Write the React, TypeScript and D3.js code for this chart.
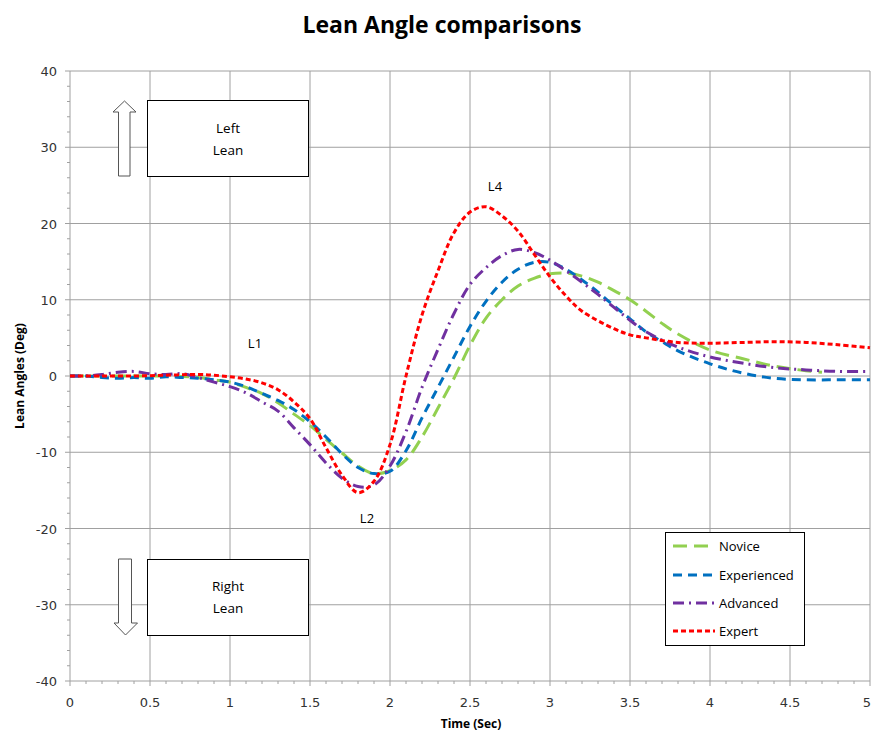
import React from "react";
import * as d3 from "d3";

const title = "Lean Angle comparisons";
const xTicks = [0, 0.5, 1, 1.5, 2, 2.5, 3, 3.5, 4, 4.5, 5];
const xTickLabels = ["0", "0.5", "1", "1.5", "2", "2.5", "3", "3.5", "4", "4.5", "5"];
const yTicks = [-40, -30, -20, -10, 0, 10, 20, 30, 40];

const expertT = [0, 0.2, 0.4, 0.6, 0.8, 0.9, 1.0, 1.1, 1.2, 1.3, 1.4, 1.5, 1.6, 1.7, 1.8, 1.9, 2.0, 2.1, 2.2, 2.3, 2.4, 2.5, 2.6, 2.7, 2.8, 2.9, 3.0, 3.1, 3.2, 3.4, 3.5, 3.6, 3.8, 4.0, 4.2, 4.4, 4.6, 4.8, 5.0];
const expertY = [0, 0, 0, 0.1, 0.2, 0.1, -0.1, -0.4, -0.9, -1.8, -3.4, -5.6, -9.4, -13.0, -15.3, -13.8, -9.0, 0.0, 8.0, 13.8, 18.8, 21.5, 22.2, 21.0, 19.0, 16.0, 13.0, 10.5, 8.5, 6.2, 5.4, 5.0, 4.4, 4.3, 4.4, 4.5, 4.4, 4.1, 3.7];

const experiencedT = [0, 0.1, 0.2, 0.3, 0.4, 0.5, 0.6, 0.7, 0.8, 0.9, 1.0, 1.1, 1.2, 1.3, 1.4, 1.5, 1.6, 1.7, 1.8, 1.9, 2.0, 2.1, 2.2, 2.3, 2.4, 2.5, 2.6, 2.7, 2.8, 2.9, 3.0, 3.1, 3.2, 3.3, 3.4, 3.5, 3.6, 3.7, 3.8, 4.0, 4.2, 4.4, 4.6, 4.8, 5.0];
const experiencedY = [0, 0, -0.2, -0.3, -0.2, -0.3, -0.1, -0.2, -0.3, -0.5, -0.8, -1.4, -2.3, -3.2, -4.4, -6.0, -8.0, -10.2, -12.0, -12.8, -12.5, -9.8, -5.5, -1.5, 2.5, 6.5, 9.8, 12.3, 14.0, 14.9, 14.9, 14.0, 12.6, 11.0, 9.2, 7.5, 5.8, 4.5, 3.3, 1.6, 0.4, -0.3, -0.5, -0.5, -0.5];

const noviceT = [0, 0.2, 0.4, 0.6, 0.8, 0.9, 1.0, 1.1, 1.2, 1.3, 1.4, 1.5, 1.6, 1.7, 1.8, 1.9, 2.0, 2.1, 2.2, 2.3, 2.4, 2.5, 2.6, 2.7, 2.8, 2.9, 3.0, 3.1, 3.2, 3.3, 3.4, 3.5, 3.6, 3.7, 3.8, 4.0, 4.2, 4.4, 4.6, 4.7];
const noviceY = [0, 0, 0, 0, -0.2, -0.5, -0.8, -1.5, -2.3, -3.5, -5.0, -6.5, -8.3, -10.1, -11.8, -12.8, -12.4, -11.0, -8.0, -4.2, -0.3, 4.0, 7.6, 10.0, 11.8, 12.8, 13.4, 13.5, 13.1, 12.3, 11.2, 10.0, 8.5, 6.9, 5.5, 3.4, 2.3, 1.3, 0.7, 0.5];

const advancedT = [0, 0.1, 0.2, 0.3, 0.4, 0.5, 0.6, 0.7, 0.8, 0.9, 1.0, 1.1, 1.2, 1.3, 1.4, 1.5, 1.6, 1.7, 1.8, 1.9, 2.0, 2.1, 2.2, 2.3, 2.4, 2.5, 2.6, 2.7, 2.8, 2.9, 3.0, 3.1, 3.2, 3.3, 3.4, 3.5, 3.6, 3.8, 4.0, 4.2, 4.4, 4.6, 4.8, 5.0];
const advancedY = [0, 0, 0.2, 0.5, 0.6, 0.3, 0.2, 0.3, -0.2, -0.8, -1.4, -2.2, -3.4, -4.6, -6.8, -9.0, -11.4, -13.4, -14.5, -14.3, -11.8, -7.3, -1.5, 3.5, 8.2, 12.0, 14.2, 15.8, 16.6, 16.2, 15.2, 13.8, 12.3, 10.7, 9.0, 7.3, 5.8, 3.8, 2.5, 1.7, 1.1, 0.8, 0.6, 0.6];

const seriesNames = ["Novice", "Experienced", "Advanced", "Expert"];
const seriesColors = ["#92D050", "#0070C0", "#7030A0", "#FF0000"];
const seriesDash = ["14,7", "9,6", "11,5,2,5", "5,3"];

const annotations = [
  { label: "L1", x: 1.156, y: 3.7 },
  { label: "L2", x: 1.856, y: -19.3 },
  { label: "L4", x: 2.656, y: 24.3 },
];

export default function App() {
  const W = 871, H = 736;
  const left = 70, right = 870, top = 71, bottom = 681;
  const x = d3.scaleLinear().domain([0, 5]).range([left, right]);
  const y = d3.scaleLinear().domain([-40, 40]).range([bottom, top]);

  const series = [
    { t: noviceT, v: noviceY },
    { t: experiencedT, v: experiencedY },
    { t: advancedT, v: advancedY },
    { t: expertT, v: expertY },
  ];
  const line = d3
    .line<[number, number]>()
    .x((d) => x(d[0]))
    .y((d) => y(d[1]))
    .curve(d3.curveCatmullRom.alpha(0.5));

  const xMinor = d3.range(0, 5.0001, 0.1);
  const yMinor = d3.range(-40, 40.0001, 2);
  const grid = "#A0A0A0";
  const tickFont = "'DejaVu Sans', Verdana, sans-serif";
  const textFont = "'Open Sans', 'Noto Sans', sans-serif";

  const legendX = 665, legendY = 532, legendW = 139, legendH = 113;
  const legendRows = [546, 575, 603, 631];

  return (
    <svg width={W} height={H} style={{ position: "absolute", left: 0, top: 0 }}>
      <rect x={0} y={0} width={W} height={H} fill="#fff" />
      <text x={442} y={33} textAnchor="middle" fontFamily={textFont} fontWeight="bold" fontSize={23} fill="#000">
        {title}
      </text>
      {/* grid */}
      {xTicks.map((t) => (
        <line key={"gx" + t} x1={x(t)} x2={x(t)} y1={top} y2={bottom} stroke={grid} strokeWidth={1} />
      ))}
      {yTicks.map((t) => (
        <line key={"gy" + t} x1={left} x2={right} y1={y(t)} y2={y(t)} stroke={grid} strokeWidth={1} />
      ))}
      {/* axis ticks */}
      {xMinor.map((t, i) => (
        <line key={"mx" + i} x1={x(t)} x2={x(t)} y1={bottom} y2={bottom + (i % 5 === 0 ? 5 : 3)} stroke={grid} />
      ))}
      {yMinor.map((t, i) => (
        <line key={"my" + i} x1={left - (i % 5 === 0 ? 5 : 3)} x2={left} y1={y(t)} y2={y(t)} stroke={grid} />
      ))}
      {xTicks.map((t, i) => (
        <text
          key={"tx" + t}
          x={i === xTicks.length - 1 ? x(t) + 1 : x(t)}
          y={707}
          textAnchor={i === xTicks.length - 1 ? "end" : "middle"}
          fontFamily={tickFont}
          fontSize={13}
          fill="#333"
        >
          {xTickLabels[i]}
        </text>
      ))}
      {yTicks.map((t) => (
        <text key={"ty" + t} x={57} y={y(t) + 5} textAnchor="end" fontFamily={tickFont} fontSize={13} fill="#333">
          {t}
        </text>
      ))}
      <text x={471} y={728} textAnchor="middle" fontFamily={textFont} fontWeight="bold" fontSize={12} fill="#000">
        Time (Sec)
      </text>
      <text
        transform={`translate(24,${y(0)}) rotate(-90)`}
        textAnchor="middle"
        fontFamily={textFont}
        fontWeight="bold"
        fontSize={12}
        fill="#000"
      >
        Lean Angles (Deg)
      </text>
      {/* annotation boxes */}
      <rect x={147.5} y={100.5} width={161} height={76} fill="#fff" stroke="#000" strokeWidth={1} />
      <text x={228} y={133} textAnchor="middle" fontFamily={textFont} fontSize={13.5} fill="#000">Left</text>
      <text x={228} y={155} textAnchor="middle" fontFamily={textFont} fontSize={13.5} fill="#000">Lean</text>
      <rect x={147.5} y={559.5} width={161} height={76} fill="#fff" stroke="#000" strokeWidth={1} />
      <text x={228} y={591} textAnchor="middle" fontFamily={textFont} fontSize={13.5} fill="#000">Right</text>
      <text x={228} y={613} textAnchor="middle" fontFamily={textFont} fontSize={13.5} fill="#000">Lean</text>
      {/* arrows */}
      <path d="M124.5,101 L136,112 L130,112 L130,176 L118.5,176 L118.5,112 L113,112 Z" fill="#fff" stroke="#555" strokeWidth={1} />
      <path d="M125.5,635 L137.5,623 L131.5,623 L131.5,559 L118.5,559 L118.5,623 L114,623 Z" fill="#fff" stroke="#555" strokeWidth={1} />
      {/* series */}
      {series.map((s, i) => (
        <path
          key={"s" + i}
          d={line(s.t.map((t, j) => [t, s.v[j]] as [number, number])) || ""}
          fill="none"
          stroke={seriesColors[i]}
          strokeWidth={3}
          strokeDasharray={seriesDash[i]}
        />
      ))}
      {annotations.map((a) => (
        <text key={a.label} x={x(a.x)} y={y(a.y)} textAnchor="middle" fontFamily={textFont} fontSize={13} fill="#000">
          {a.label}
        </text>
      ))}
      {/* legend */}
      <rect x={legendX + 0.5} y={legendY + 0.5} width={legendW} height={legendH} fill="#fff" stroke="#000" strokeWidth={1} />
      {seriesNames.map((n, i) => (
        <g key={"lg" + n}>
          <line
            x1={673}
            x2={715}
            y1={legendRows[i]}
            y2={legendRows[i]}
            stroke={seriesColors[i]}
            strokeWidth={3}
            strokeDasharray={seriesDash[i]}
          />
          <text x={719} y={legendRows[i] + 5} fontFamily={textFont} fontSize={13} fill="#000">
            {n}
          </text>
        </g>
      ))}
    </svg>
  );
}
